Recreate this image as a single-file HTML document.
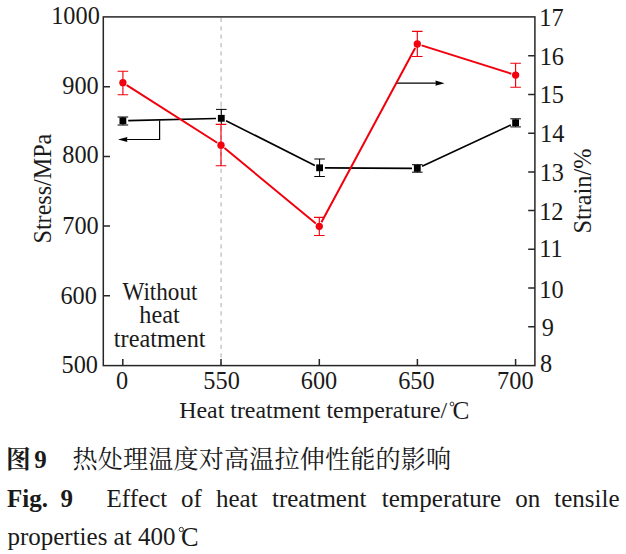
<!DOCTYPE html>
<html lang="zh"><head><meta charset="utf-8"><title>Fig. 9</title>
<style>
html,body{margin:0;padding:0;background:#fff}
svg{display:block}
text{font-family:"Liberation Serif",serif;fill:#1a1a1a}
.b{font-weight:bold}
.cjk{font-family:"Liberation Serif","Noto Serif CJK SC",serif}
</style></head>
<body>
<svg width="626" height="554" viewBox="0 0 626 554">
<rect width="626" height="554" fill="#fff"/>
<path d="M221.1 17.8V365.6" fill="none" stroke="#bfbfbf" stroke-width="1.3" stroke-dasharray="4.2 4.185"/><path d="M221.1 105.6V109" fill="none" stroke="#d4d4d4" stroke-width="1.3"/>
<rect x="103.3" y="16.9" width="431.6" height="348.7" fill="none" stroke="#262626" stroke-width="1.5"/>
<path d="M103.3 295.86h6.7M103.3 226.12h6.7M103.3 156.38h6.7M103.3 86.64h6.7M534.9 326.86h-6.7M534.9 288.11h-6.7M534.9 249.37h-6.7M534.9 210.62h-6.7M534.9 171.88h-6.7M534.9 133.13h-6.7M534.9 94.39h-6.7M534.9 55.64h-6.7M122.8 365.6v-6.7M221.0 365.6v-6.7M319.3 365.6v-6.7M417.4 365.6v-6.7M515.6 365.6v-6.7" fill="none" stroke="#262626" stroke-width="1.5"/>
<g font-size="24.3" text-anchor="end"><text x="99.82" y="24.4">1000</text><text x="98.72" y="93.6">900</text><text x="98.72" y="163.4">800</text><text x="98.72" y="234.1">700</text><text x="96.92" y="303.9">600</text><text x="97.97" y="372.7">500</text></g>
<g font-size="24.3" text-anchor="start"><text x="539.36" y="26.0">17</text><text x="539.66" y="65.2">16</text><text x="539.66" y="103.0">15</text><text x="540.06" y="142.0">14</text><text x="539.66" y="181.3">13</text><text x="539.16" y="219.6">12</text><text x="539.36" y="257.0">11</text><text x="539.36" y="297.7">10</text><text x="541.82" y="336.0">9</text><text x="540.08" y="371.9">8</text></g>
<g font-size="24.3" text-anchor="middle"><text x="122.2" y="389.4">0</text><text x="221.6" y="389.4">550</text><text x="319.0" y="389.4">600</text><text x="416.4" y="389.4">650</text><text x="515.35" y="389.4">700</text></g>
<text font-size="25.5" text-anchor="middle" transform="translate(51.2 188.6) rotate(-90) scale(0.945 1)">Stress/MPa</text>
<text font-size="25.3" text-anchor="middle" transform="translate(590.7 191.1) rotate(-90) scale(0.96 1)">Strain/%</text>
<text font-size="23.9" x="179.2" y="418.2">Heat treatment temperature/</text>
<circle cx="452" cy="404" r="1.9" fill="none" stroke="#1a1a1a" stroke-width="0.85"/><text font-size="25.3" x="452.4" y="419.25">C</text>
<g font-size="24.3" text-anchor="middle"><text transform="translate(159.95 299.5) scale(0.953 1)">Without</text><text x="159.6" y="323.3">heat</text><text x="159.7" y="347.3">treatment</text></g>
<path d="M128.20 120.67L216.00 118.43M226.03 120.68L314.87 165.42M324.90 167.83L412.00 168.37M422.11 166.17L510.79 124.93" fill="none" stroke="#000" stroke-width="1.6"/>
<path d="M117.60 117.0h10.6M122.90 117.0V120.8M117.60 125.0h10.6M122.90 125.0V120.8M216.00 109.4h10.6M221.30 109.4V118.3M221.30 124.4V118.3M314.30 159.0h10.6M319.60 159.0V167.8M314.30 176.5h10.6M319.60 176.5V167.8M412.00 164.7h10.6M417.30 164.7V168.4M412.00 172.2h10.6M417.30 172.2V168.4M510.30 118.8h10.6M515.60 118.8V122.7M510.30 126.9h10.6M515.60 126.9V122.7" fill="none" stroke="#000" stroke-width="1"/>
<rect x="119.50" y="117.40" width="6.8" height="6.8" fill="#000"/><rect x="217.90" y="114.90" width="6.8" height="6.8" fill="#000"/><rect x="316.20" y="164.40" width="6.8" height="6.8" fill="#000"/><rect x="413.90" y="165.00" width="6.8" height="6.8" fill="#000"/><rect x="512.20" y="119.30" width="6.8" height="6.8" fill="#000"/>
<path d="M159.6 120.5V139.5H126" fill="none" stroke="#000" stroke-width="1.2"/><path d="M118.0 139.5L127.4 137L126.9 139.5L127.4 142Z" fill="#000"/>
<path d="M396.8 83.2H437" fill="none" stroke="#000" stroke-width="1.2"/><path d="M444.6 83.2L435.4 80.6L435.9 83.2L435.4 85.8Z" fill="#000"/>
<path d="M126.70 85.12L217.20 142.78M224.47 148.06L315.83 223.44M321.43 222.34L415.17 47.96M421.59 45.36L511.31 73.74" fill="none" stroke="#f2000d" stroke-width="2"/>
<path d="M117.60 71.2h10.6M117.60 94.7h10.6M122.90 71.2V94.7M215.70 124.3h10.6M215.70 165.7h10.6M221.00 124.3V165.7M314.00 217.4h10.6M314.00 235.5h10.6M319.30 217.4V235.5M412.00 31.3h10.6M412.00 56.5h10.6M417.30 31.3V56.5M510.30 63.2h10.6M510.30 87.2h10.6M515.60 63.2V87.2" fill="none" stroke="#f2000d" stroke-width="1.15"/>
<circle cx="122.9" cy="82.7" r="3.65" fill="#f2000d"/><circle cx="221.0" cy="145.2" r="3.65" fill="#f2000d"/><circle cx="319.3" cy="226.3" r="3.65" fill="#f2000d"/><circle cx="417.3" cy="44.0" r="3.65" fill="#f2000d"/><circle cx="515.6" cy="75.1" r="3.65" fill="#f2000d"/>
<text class="b cjk" font-size="24.7" x="6.1" y="468.2">图</text><text class="b" font-size="25" x="34.3" y="467.8">9</text><text class="cjk" font-size="25.1" letter-spacing="0.15" x="72.5" y="468.3">热处理温度对高温拉伸性能的影响</text>
<g font-size="25.0"><text class="b" x="7" y="507">Fig.</text><text class="b" x="60.5" y="507">9</text><text x="106.6" y="507">Effect</text><text x="181" y="507">of</text><text x="216" y="507">heat</text><text x="272" y="507">treatment</text><text x="381.8" y="507">temperature</text><text x="515.2" y="507">on</text><text x="554.3" y="507">tensile</text><text x="7.4" y="545">properties at 400</text></g><circle cx="181.3" cy="529.5" r="2.15" fill="none" stroke="#1a1a1a" stroke-width="0.9"/><text font-size="26.4" x="181.0" y="545.5">C</text>
</svg>
</body></html>
